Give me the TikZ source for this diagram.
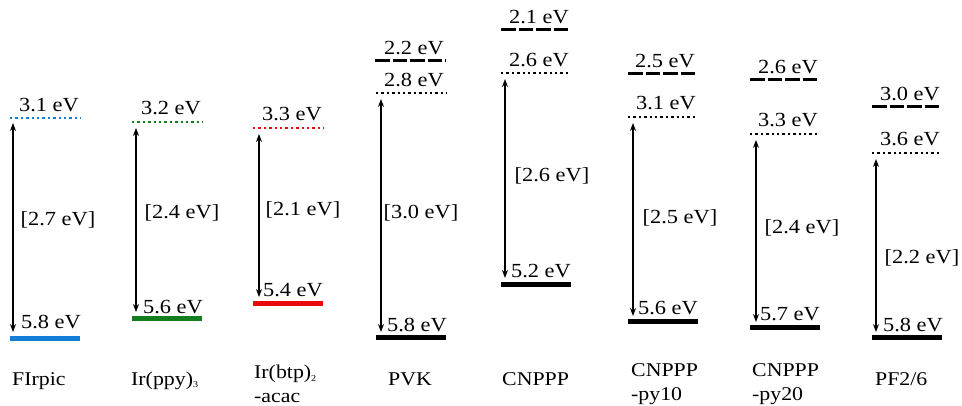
\documentclass[tikz,border=0pt]{standalone}
\usepackage{fontspec}
\setmainfont{Liberation Serif}[FakeStretch=1.12]
\usetikzlibrary{arrows.meta}
\definecolor{fblue}{RGB}{20,125,215}
\definecolor{fgreen}{RGB}{20,125,30}
\definecolor{fred}{RGB}{235,10,10}
\tikzset{
  homo/.style={line width=5pt},
  lumo/.style={line width=1.8pt, dash pattern=on 2.4pt off 3.0pt},
  vac/.style={line width=3pt, dash pattern=on 14.5pt off 3pt},
  gap/.style={line width=1.1pt, {Stealth[length=8pt,width=6pt]}-{Stealth[length=8pt,width=6pt]}},
  lvl/.style={anchor=base east, inner sep=0pt, font=\fontsize{20}{22}\selectfont},
  eg/.style={inner sep=0pt, font=\fontsize{20}{22}\selectfont},
  nm/.style={anchor=base west, inner sep=0pt, align=left, font=\fontsize{19.5}{23.5}\selectfont},
}
\begin{document}
\begin{tikzpicture}[x=1pt,y=-1pt]
\useasboundingbox (0,0) rectangle (962,406);
% ---------- FIrpic
\draw[homo,fblue] (10,339) -- (80,339);
\draw[lumo,fblue] (10,118) -- (81,118);
\node[lvl] (f-l) at (79,112) {3.1 eV};
\node[lvl] (f-h) at (81,328) {5.8 eV};
\coordinate (f-t) at (13,123);
\coordinate (f-b) at (13,332);
\draw[gap] (f-t) -- (f-b);
\node[eg] (f-g) at (58,220) {[2.7 eV]};
\node[nm] (f-n) at (12,385) {FIrpic};
% ---------- Ir(ppy)3
\draw[homo,fgreen] (132,319) -- (202,319);
\draw[lumo,fgreen] (132,122) -- (203,122);
\node[lvl] (g-l) at (201,115) {3.2 eV};
\node[lvl] (g-h) at (203,313) {5.6 eV};
\coordinate (g-t) at (136,128);
\coordinate (g-b) at (136,312);
\draw[gap] (g-t) -- (g-b);
\node[eg] (g-g) at (182,213) {[2.4 eV]};
\node[nm] (g-n) at (131,385) {Ir(ppy)\raisebox{-0.3ex}{\fontsize{9}{9}\selectfont 3}};
% ---------- Ir(btp)2-acac
\draw[homo,fred] (253,304) -- (323,304);
\draw[lumo,fred] (253,128) -- (324,128);
\node[lvl] (r-l) at (322,121) {3.3 eV};
\node[lvl] (r-h) at (323,297) {5.4 eV};
\coordinate (r-t) at (259,134);
\coordinate (r-b) at (259,297);
\draw[gap] (r-t) -- (r-b);
\node[eg] (r-g) at (303,210) {[2.1 eV]};
\node[nm] (r-n) at (254,402) {Ir(btp)\raisebox{-0.3ex}{\fontsize{9}{9}\selectfont 2}\\-acac};
% ---------- PVK
\draw[homo] (376,338) -- (446,338);
\draw[lumo] (376,93) -- (447,93);
\draw[vac] (375,61) -- (446,61);
\node[lvl] (p-v) at (444,55) {2.2 eV};
\node[lvl] (p-l) at (444,87) {2.8 eV};
\node[lvl] (p-h) at (447,331) {5.8 eV};
\coordinate (p-t) at (381,99);
\coordinate (p-b) at (381,332);
\draw[gap] (p-t) -- (p-b);
\node[eg] (p-g) at (421,213) {[3.0 eV]};
\node[nm] (p-n) at (388,385) {PVK};
% ---------- CNPPP
\draw[homo] (501,285) -- (571,285);
\draw[lumo] (501,73) -- (571,73);
\draw[vac] (501,30) -- (570,30);
\node[lvl] (c-v) at (569,24) {2.1 eV};
\node[lvl] (c-l) at (569,67) {2.6 eV};
\node[lvl] (c-h) at (571,278) {5.2 eV};
\coordinate (c-t) at (505,79);
\coordinate (c-b) at (505,278);
\draw[gap] (c-t) -- (c-b);
\node[eg] (c-g) at (552,176) {[2.6 eV]};
\node[nm] (c-n) at (502,385) {CNPPP};
% ---------- CNPPP-py10
\draw[homo] (628,322) -- (698,322);
\draw[lumo] (628,117) -- (698,117);
\draw[vac] (628,74) -- (696,74);
\node[lvl] (a-v) at (695,68) {2.5 eV};
\node[lvl] (a-l) at (696,110) {3.1 eV};
\node[lvl] (a-h) at (698,315) {5.6 eV};
\coordinate (a-t) at (633,123);
\coordinate (a-b) at (633,316);
\draw[gap] (a-t) -- (a-b);
\node[eg] (a-g) at (680,218) {[2.5 eV]};
\node[nm] (a-n) at (631,400) {CNPPP\\-py10};
% ---------- CNPPP-py20
\draw[homo] (750,328) -- (820,328);
\draw[lumo] (750,134) -- (820,134);
\draw[vac] (750,80) -- (818,80);
\node[lvl] (b-v) at (818,74) {2.6 eV};
\node[lvl] (b-l) at (818,127) {3.3 eV};
\node[lvl] (b-h) at (820,321) {5.7 eV};
\coordinate (b-t) at (756,140);
\coordinate (b-b) at (756,322);
\draw[gap] (b-t) -- (b-b);
\node[eg] (b-g) at (802,228) {[2.4 eV]};
\node[nm] (b-n) at (752,400) {CNPPP\\-py20};
% ---------- PF2/6
\draw[homo] (872,338) -- (942,338);
\draw[lumo] (872,153) -- (942,153);
\draw[vac] (872,107) -- (941,107);
\node[lvl] (q-v) at (940,101) {3.0 eV};
\node[lvl] (q-l) at (940,146) {3.6 eV};
\node[lvl] (q-h) at (943,331) {5.8 eV};
\coordinate (q-t) at (876,159);
\coordinate (q-b) at (876,332);
\draw[gap] (q-t) -- (q-b);
\node[eg] (q-g) at (922,258) {[2.2 eV]};
\node[nm] (q-n) at (875,385) {PF2/6};
\end{tikzpicture}
\end{document}
